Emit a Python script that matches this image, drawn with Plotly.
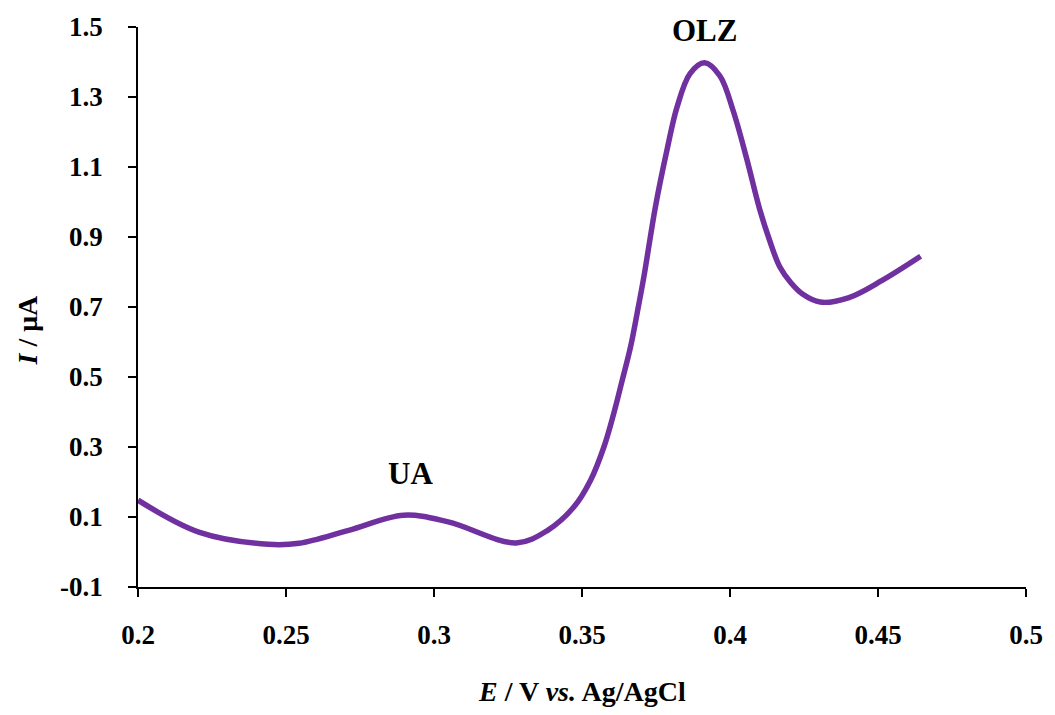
import plotly.graph_objects as go

# Data (potential in V, current in µA)
potential = [0.2, 0.2208, 0.244, 0.2544, 0.2712, 0.2897, 0.3048, 0.3278, 0.3384,
             0.3473, 0.3529, 0.3574, 0.3607, 0.3636, 0.3664, 0.3686, 0.3709, 0.3748,
             0.3787, 0.3821, 0.3865, 0.3914, 0.3966, 0.4011, 0.4056, 0.41, 0.4134,
             0.4168, 0.4205, 0.4245, 0.4305, 0.4402, 0.4514, 0.4644]
current = [0.148, 0.056, 0.022, 0.025, 0.062, 0.105, 0.086, 0.026, 0.062,
           0.129, 0.205, 0.30, 0.395, 0.491, 0.586, 0.681, 0.786, 0.986,
           1.148, 1.271, 1.367, 1.398, 1.36, 1.26, 1.125, 0.98, 0.89,
           0.815, 0.77, 0.737, 0.714, 0.727, 0.776, 0.845]

x_ticks = [0.2, 0.25, 0.3, 0.35, 0.4, 0.45, 0.5]
x_tick_text = ["0.2", "0.25", "0.3", "0.35", "0.4", "0.45", "0.5"]
y_ticks = [-0.1, 0.1, 0.3, 0.5, 0.7, 0.9, 1.1, 1.3, 1.5]
y_tick_text = ["-0.1", "0.1", "0.3", "0.5", "0.7", "0.9", "1.1", "1.3", "1.5"]

peak_labels = ["UA", "OLZ"]
peak_x = [0.292, 0.3914]
peak_y = [0.225, 1.49]

FONT = "Liberation Serif, Times New Roman, serif"

fig = go.Figure()
fig.add_trace(go.Scatter(
    x=potential, y=current, mode="lines",
    line=dict(color="#7030A0", width=5.5, shape="spline", smoothing=1.0),
    showlegend=False, hoverinfo="skip", cliponaxis=False))

for t, xv, yv in zip(peak_labels, peak_x, peak_y):
    fig.add_annotation(x=xv, y=yv, xref="x", yref="y", text="<b>" + t + "</b>",
                       showarrow=False, font=dict(family=FONT, size=31, color="black"))

fig.add_annotation(xref="paper", yref="paper", x=0.5, y=0, yshift=-104,
                   xanchor="center", yanchor="middle", showarrow=False,
                   text="<b><i>E</i> / V <i>vs.</i> Ag/AgCl</b>",
                   font=dict(family=FONT, size=28, color="black"))
fig.add_annotation(xref="paper", yref="paper", x=0, xshift=-110, y=0.458,
                   xanchor="center", yanchor="middle", showarrow=False,
                   textangle=-90, text="<b><i>I</i> / μA</b>",
                   font=dict(family=FONT, size=28, color="black"))

fig.update_layout(
    width=1055, height=715,
    margin=dict(l=138, r=19, t=27, b=128, pad=0),
    paper_bgcolor="white", plot_bgcolor="white",
    font=dict(family=FONT, color="black"),
    xaxis=dict(range=[0.2, 0.5], tickvals=x_ticks, ticktext=x_tick_text,
               showgrid=False, zeroline=False, showline=True, linecolor="black",
               linewidth=1.5, ticks="outside", ticklen=8, tickwidth=1.5,
               tickcolor="black", ticklabelstandoff=15,
               tickfont=dict(family=FONT, size=27, color="black", weight="bold")),
    yaxis=dict(range=[-0.1, 1.5], tickvals=y_ticks, ticktext=y_tick_text,
               showgrid=False, zeroline=False, showline=True, linecolor="black",
               linewidth=1.5, ticks="outside", ticklen=8, tickwidth=1.5,
               tickcolor="black", ticklabelstandoff=20,
               tickfont=dict(family=FONT, size=27, color="black", weight="bold")),
)

fig.write_html("out.html", config={"displayModeBar": False},
               post_script="document.body.style.margin='0';document.body.style.overflow='hidden';")
